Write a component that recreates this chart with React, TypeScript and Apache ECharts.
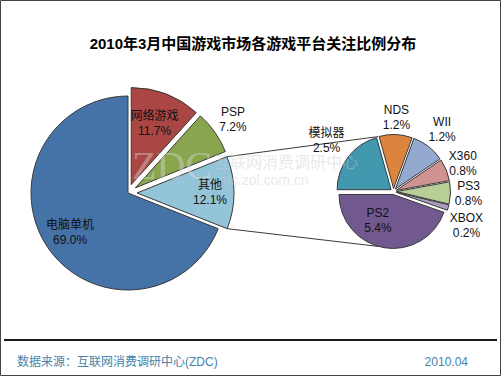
import React, { useEffect, useRef } from "react";
import * as echarts from "echarts";

// ---- data ----
const titleText = "2010年3月中国游戏市场各游戏平台关注比例分布";
const mainNames = ["网络游戏", "PSP", "其他", "电脑单机"];
const mainValues = [11.7, 7.2, 12.1, 69.0];
const subNames = ["模拟器", "NDS", "WII", "X360", "PS3", "XBOX", "PS2"];
const subValues = [2.5, 1.2, 1.2, 0.8, 0.8, 0.2, 5.4];
const sourceText = "数据来源：互联网消费调研中心(ZDC)";
const dateText = "2010.04";
const watermarkTexts = ["ZDC", "互联网消费调研中心", "zdc.zol.com.cn"];

// ---- styles / layout ----
const mainColors = ["#AA4643", "#89A54E", "#93C4D8", "#4572A7"];
const subColors = ["#4198AF", "#DB843D", "#93A9CF", "#D19392", "#B9CD96", "#A99BBD", "#71588F"];
const mainSelected = [true, true, true, false];
const mainLabelDist = [74, 128, 82, 70];
const subLabelDist = [84, 74, 79, 75, 75, 76, 33];
const subLabelNudge = [[0, 0], [0, 0], [0, 0], [0, 0], [0, 0], [0, 13], [-10, -4]];
const OTHER_INDEX = 2;

const MAIN = { cx: 128, cy: 193, r: 97, off: 9, start: 90 };
const SUB = { cx: 393.5, cy: 191.5, r: 54, off: 3, start: 180 };

const FONT = "'Liberation Sans', 'Noto Sans CJK SC', sans-serif";

function spans(values: number[], start: number) {
  const total = values.reduce((a, b) => a + b, 0);
  let cum = 0;
  return values.map((v) => {
    const a0 = start - (cum / total) * 360;
    cum += v;
    const a1 = start - (cum / total) * 360;
    return { a0, a1, mid: (a0 + a1) / 2 };
  });
}

function pt(cx: number, cy: number, d: number, deg: number): [number, number] {
  const r = (deg * Math.PI) / 180;
  return [cx + d * Math.cos(r), cy - d * Math.sin(r)];
}

function labelText(x: number, y: number, name: string, value: number) {
  return {
    type: "text",
    x,
    y,
    z: 102,
    silent: true,
    style: {
      text: `${name}\n${value.toFixed(1)}%`,
      font: `12px ${FONT}`,
      lineHeight: 15,
      fill: "#111",
      align: "center",
      verticalAlign: "middle",
    },
  };
}

export default function App() {
  const ref = useRef<HTMLDivElement>(null);

  useEffect(() => {
    if (!ref.current) return;
    const chart = echarts.init(ref.current, undefined, { renderer: "svg" });

    const mainSpans = spans(mainValues, MAIN.start);
    const subSpans = spans(subValues, SUB.start);

    // connector lines from the exploded "其他" slice to the sub pie
    const o = mainSpans[OTHER_INDEX];
    const [sx, sy] = pt(0, 0, MAIN.off, o.mid);
    const p1 = pt(MAIN.cx + sx, MAIN.cy + sy, MAIN.r, o.a0);
    const p2 = pt(MAIN.cx + sx, MAIN.cy + sy, MAIN.r, o.a1);
    const subEdge = subSpans[0].a1;
    const q1 = pt(SUB.cx, SUB.cy, SUB.r + SUB.off, subEdge);
    const q2 = pt(SUB.cx, SUB.cy, SUB.r + SUB.off, -subEdge);

    const mainLabels = mainNames.map((n, i) => {
      const [x, y] = pt(MAIN.cx, MAIN.cy, mainLabelDist[i], mainSpans[i].mid);
      return labelText(x, y, n, mainValues[i]);
    });
    const subLabels = subNames.map((n, i) => {
      const [x, y] = pt(SUB.cx, SUB.cy, subLabelDist[i], subSpans[i].mid);
      return labelText(x + subLabelNudge[i][0], y + subLabelNudge[i][1], n, subValues[i]);
    });

    const pieCommon = {
      type: "pie",
      clockwise: true,
      selectedMode: "multiple",
      avoidLabelOverlap: false,
      silent: true,
      itemStyle: { borderColor: "#3a3a3a", borderWidth: 1 },
      label: { show: false },
      labelLine: { show: false },
      emphasis: { disabled: true },
    };

    const option: any = {
      animation: false,
      backgroundColor: "#ffffff",
      title: {
        text: titleText,
        left: 248,
        textAlign: "center",
        top: 31,
        textStyle: { fontSize: 15, fontWeight: "bold", color: "#000", fontFamily: FONT },
      },
      series: [
        {
          ...pieCommon,
          center: [MAIN.cx, MAIN.cy],
          radius: MAIN.r,
          startAngle: MAIN.start,
          selectedOffset: MAIN.off,
          data: mainNames.map((n, i) => ({
            name: n,
            value: mainValues[i],
            selected: mainSelected[i],
            itemStyle: { color: mainColors[i] },
          })),
        },
        {
          ...pieCommon,
          center: [SUB.cx, SUB.cy],
          radius: SUB.r,
          startAngle: SUB.start,
          selectedOffset: SUB.off,
          data: subNames.map((n, i) => ({
            name: n,
            value: subValues[i],
            selected: true,
            itemStyle: { color: subColors[i] },
          })),
        },
      ],
      graphic: [
        {
          type: "rect",
          shape: { x: 0.5, y: 0.5, width: 500, height: 375 },
          style: { fill: "none", stroke: "#444", lineWidth: 1 },
          z: 100,
          silent: true,
        },
        {
          type: "line",
          shape: { x1: 4, y1: 340, x2: 497, y2: 340 },
          style: { stroke: "#1a1a1a", lineWidth: 2 },
          z: 100,
          silent: true,
        },
        {
          type: "line",
          shape: { x1: p1[0], y1: p1[1], x2: q1[0], y2: q1[1] },
          style: { stroke: "#3a3a3a", lineWidth: 1 },
          z: 100,
          silent: true,
        },
        {
          type: "line",
          shape: { x1: p2[0], y1: p2[1], x2: q2[0], y2: q2[1] },
          style: { stroke: "#3a3a3a", lineWidth: 1 },
          z: 100,
          silent: true,
        },
        {
          type: "text",
          x: 132,
          y: 165,
          z: 101,
          silent: true,
          style: {
            text: watermarkTexts[0],
            font: "40px 'Liberation Serif', serif",
            fill: "rgba(230,230,230,0.4)",
            verticalAlign: "middle",
          },
        },
        {
          type: "text",
          x: 214,
          y: 161,
          z: 101,
          silent: true,
          style: {
            text: watermarkTexts[1],
            font: "16px 'Noto Sans CJK SC', sans-serif",
            fill: "rgba(205,205,205,0.45)",
            verticalAlign: "middle",
          },
        },
        {
          type: "text",
          x: 216,
          y: 180,
          z: 101,
          silent: true,
          style: {
            text: watermarkTexts[2],
            font: "14px 'Liberation Sans', sans-serif",
            fill: "rgba(205,205,205,0.45)",
            verticalAlign: "middle",
          },
        },
        ...mainLabels,
        ...subLabels,
        {
          type: "text",
          x: 17,
          y: 362,
          z: 101,
          silent: true,
          style: {
            text: sourceText,
            font: `12px ${FONT}`,
            fill: "#4682a9",
            verticalAlign: "middle",
          },
        },
        {
          type: "text",
          x: 468,
          y: 362,
          z: 101,
          silent: true,
          style: {
            text: dateText,
            font: `12px ${FONT}`,
            fill: "#4682a9",
            align: "right",
            verticalAlign: "middle",
          },
        },
      ],
    };

    chart.setOption(option);
    return () => chart.dispose();
  }, []);

  return (
    <div
      ref={ref}
      style={{ position: "fixed", left: 0, top: 0, width: 501, height: 376, background: "#fff" }}
    />
  );
}
